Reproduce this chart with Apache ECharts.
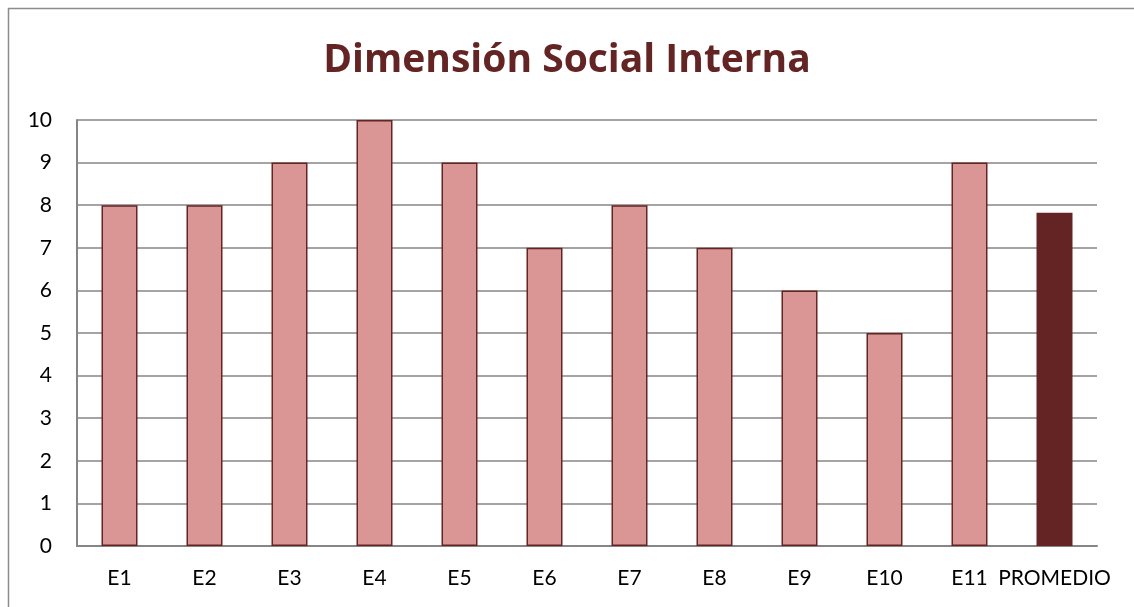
<!DOCTYPE html>
<html>
<head>
<meta charset="utf-8">
<script src="https://cdn.jsdelivr.net/npm/echarts@6/dist/echarts.min.js"></script>
<style>
  html, body { margin: 0; padding: 0; background: #fff; }
  #chart { width: 1134px; height: 607px; }
</style>
</head>
<body>
<div id="chart"></div>
<script>
var categories = ["E1", "E2", "E3", "E4", "E5", "E6", "E7", "E8", "E9", "E10", "E11", "PROMEDIO"];
var scores = [8, 8, 9, 10, 9, 7, 8, 7, 6, 5, 9, 7.82];
var yTicks = [0, 1, 2, 3, 4, 5, 6, 7, 8, 9, 10];

var chart = echarts.init(document.getElementById("chart"));
var labelFont = "Lato, 'Open Sans', sans-serif";

chart.setOption({
  animation: false,
  graphic: [{
    type: "rect",
    shape: { x: 8.5, y: 8.5, width: 1140, height: 640 },
    style: { fill: "none", stroke: "#8c8c8c", lineWidth: 1.5 },
    silent: true
  }],
  title: {
    text: "Dimensión Social Interna",
    left: "center",
    top: 36,
    textStyle: {
      color: "#632423",
      fontSize: 39,
      fontWeight: "bold",
      fontFamily: "'Open Sans', Lato, sans-serif"
    }
  },
  grid: { left: 77, right: 37, top: 120, bottom: 61 },
  xAxis: {
    type: "category",
    data: categories,
    axisLine: { lineStyle: { color: "#868686", width: 2 } },
    axisTick: { show: false },
    axisLabel: { color: "#000", fontSize: 21, fontFamily: labelFont, margin: 22, interval: 0 }
  },
  yAxis: {
    type: "value",
    min: yTicks[0],
    max: yTicks[yTicks.length - 1],
    interval: 1,
    axisLine: { show: true, lineStyle: { color: "#868686", width: 2 } },
    axisTick: { show: false },
    axisLabel: { color: "#000", fontSize: 21, fontFamily: labelFont, margin: 25 },
    splitLine: { lineStyle: { color: "#868686", width: 1.5 } }
  },
  series: [{
    type: "bar",
    barWidth: 36,
    data: scores.map(function (v, i) {
      var last = i === scores.length - 1;
      return {
        value: v,
        itemStyle: last
          ? { color: "#632423", borderColor: "#632423", borderWidth: 0 }
          : { color: "#d99694", borderColor: "#632423", borderWidth: 1.5 }
      };
    })
  }]
});
</script>
</body>
</html>
